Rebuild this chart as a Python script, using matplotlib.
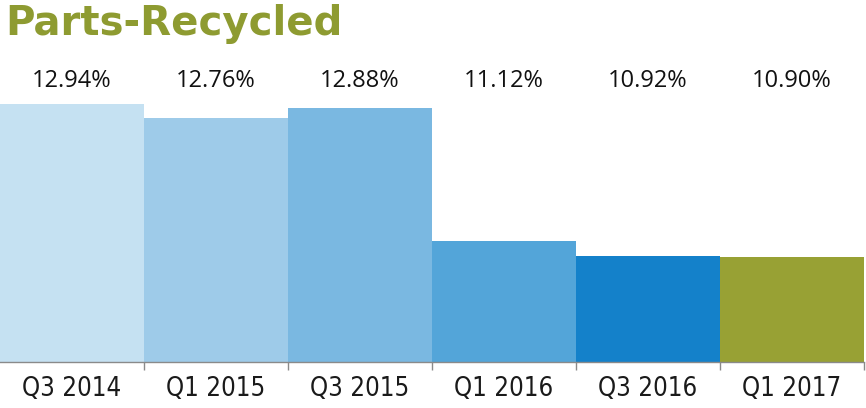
import matplotlib
matplotlib.use("Agg")
import matplotlib.pyplot as plt
from matplotlib import font_manager as fm

categories = ["Q3 2014", "Q1 2015", "Q3 2015", "Q1 2016", "Q3 2016", "Q1 2017"]
values = [12.94, 12.76, 12.88, 11.12, 10.92, 10.90]
value_labels = ["12.94%", "12.76%", "12.88%", "11.12%", "10.92%", "10.90%"]
colors = ["#c5e1f2", "#9ecbe9", "#7ab8e1", "#53a5d9", "#1481ca", "#98a134"]

names = {f.name for f in fm.fontManager.ttflist}
narrow = "Liberation Sans Narrow" if "Liberation Sans Narrow" in names else "DejaVu Sans"
narrow_stretch = "normal" if narrow == "Liberation Sans Narrow" else "condensed"

fig = plt.figure(figsize=(8.66, 4.08), dpi=100)
ax = fig.add_axes([0, 46/408, 864/866, 302/408])
x = list(range(len(categories)))
ax.bar(x, values, width=1.0, color=colors, linewidth=0)
ax.set_xlim(-0.5, 5.5)
ax.set_ylim(9.5, 9.5 + 302/75)

for s in ["top", "left", "right"]:
    ax.spines[s].set_visible(False)
ax.spines["bottom"].set_color("#8a8a8a")
ax.spines["bottom"].set_linewidth(1)
ax.set_yticks([])
ax.set_xticks(x)
ax.set_xticklabels(categories, fontfamily=narrow, fontstretch=narrow_stretch,
                   fontsize=18.5, color="#1a1a1a")
ax.tick_params(axis="x", which="major", length=0, pad=10)
ax.set_xticks([i + 0.5 for i in x], minor=True)
ax.tick_params(axis="x", which="minor", length=6, color="#8a8a8a", width=1)

for xi, lab in zip(x, value_labels):
    ax.text(xi, 0.93, lab, transform=ax.get_xaxis_transform(), ha="center", va="center",
            fontsize=17, fontfamily="Open Sans", color="#111111")

fig.text(5/866, 1 - 35/408, "Parts-Recycled", fontsize=29, fontweight="bold",
         fontfamily="DejaVu Sans", color="#8e9b31", ha="left", va="baseline")

fig.savefig("out.png", dpi=100)
